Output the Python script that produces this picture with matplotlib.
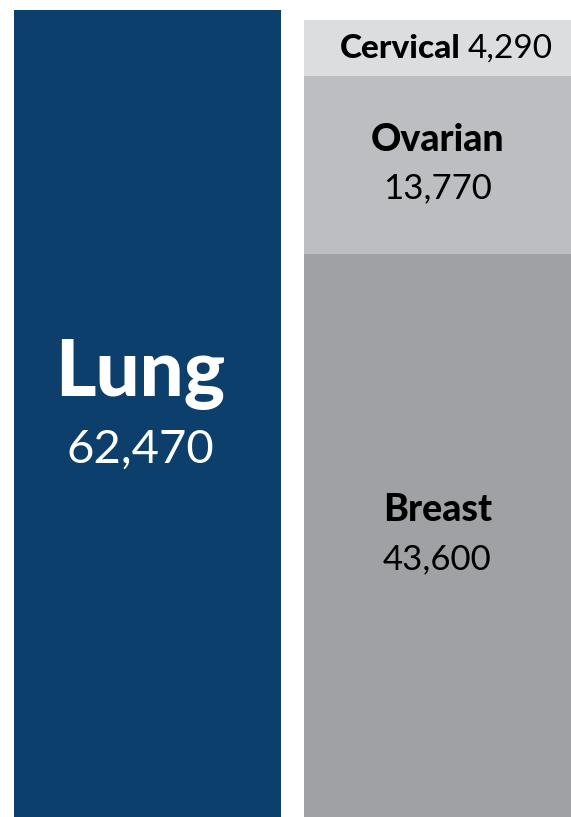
import matplotlib.pyplot as plt

# データ
lung_label = 'Lung'
lung_value = 62470
stack_labels = ['Breast', 'Ovarian', 'Cervical']
stack_values = [43600, 13770, 4290]

LUNG_COLOR = '#0c3f6b'
STACK_COLORS = ['#a0a1a4', '#bdbec1', '#dcdddf']

plt.rcParams['font.family'] = ['Lato', 'DejaVu Sans']


def fmt(v):
    return f'{v:,}'


def main():
    fig = plt.figure(figsize=(5.71, 8.17), dpi=100)
    ax = fig.add_axes([0, 0, 1, 1])
    width = 267 / 290

    # 左の棒
    ax.bar(0, lung_value, width=width, color=LUNG_COLOR)
    # 右の積み上げ棒
    bottom = 0
    centers = []
    for val, col in zip(stack_values, STACK_COLORS):
        ax.bar(1, val, width=width, bottom=bottom, color=col)
        centers.append(bottom + val / 2)
        bottom += val

    ax.set_xlim(-147.5 / 290, 1 + 133.5 / 290)
    ax.set_ylim(0, lung_value * 817 / 807)
    ax.axis('off')

    # ラベル
    mid = lung_value / 2
    ax.annotate(lung_label, (0, mid), xytext=(-5, 28), textcoords='offset points',
                ha='center', va='center', color='white', fontsize=56, fontweight='black')
    ax.annotate(fmt(lung_value), (0, mid), xytext=(-5, -26), textcoords='offset points',
                ha='center', va='center', color='white', fontsize=34)

    for lab, val, c in zip(stack_labels[:2], stack_values[:2], centers[:2]):
        ax.annotate(lab, (1, c), xytext=(0, 18), textcoords='offset points',
                    ha='center', va='center', color='black', fontsize=27, fontweight='black')
        ax.annotate(fmt(val), (1, c), xytext=(0, -17), textcoords='offset points',
                    ha='center', va='center', color='black', fontsize=25)

    ax.annotate(stack_labels[2], (1, centers[2]), xytext=(17, 0), textcoords='offset points',
                ha='right', va='center', color='black', fontsize=24, fontweight='black')
    ax.annotate(fmt(stack_values[2]), (1, centers[2]), xytext=(22, 0), textcoords='offset points',
                ha='left', va='center', color='black', fontsize=24)

    fig.savefig('out.png', dpi=100)


if __name__ == '__main__':
    main()
